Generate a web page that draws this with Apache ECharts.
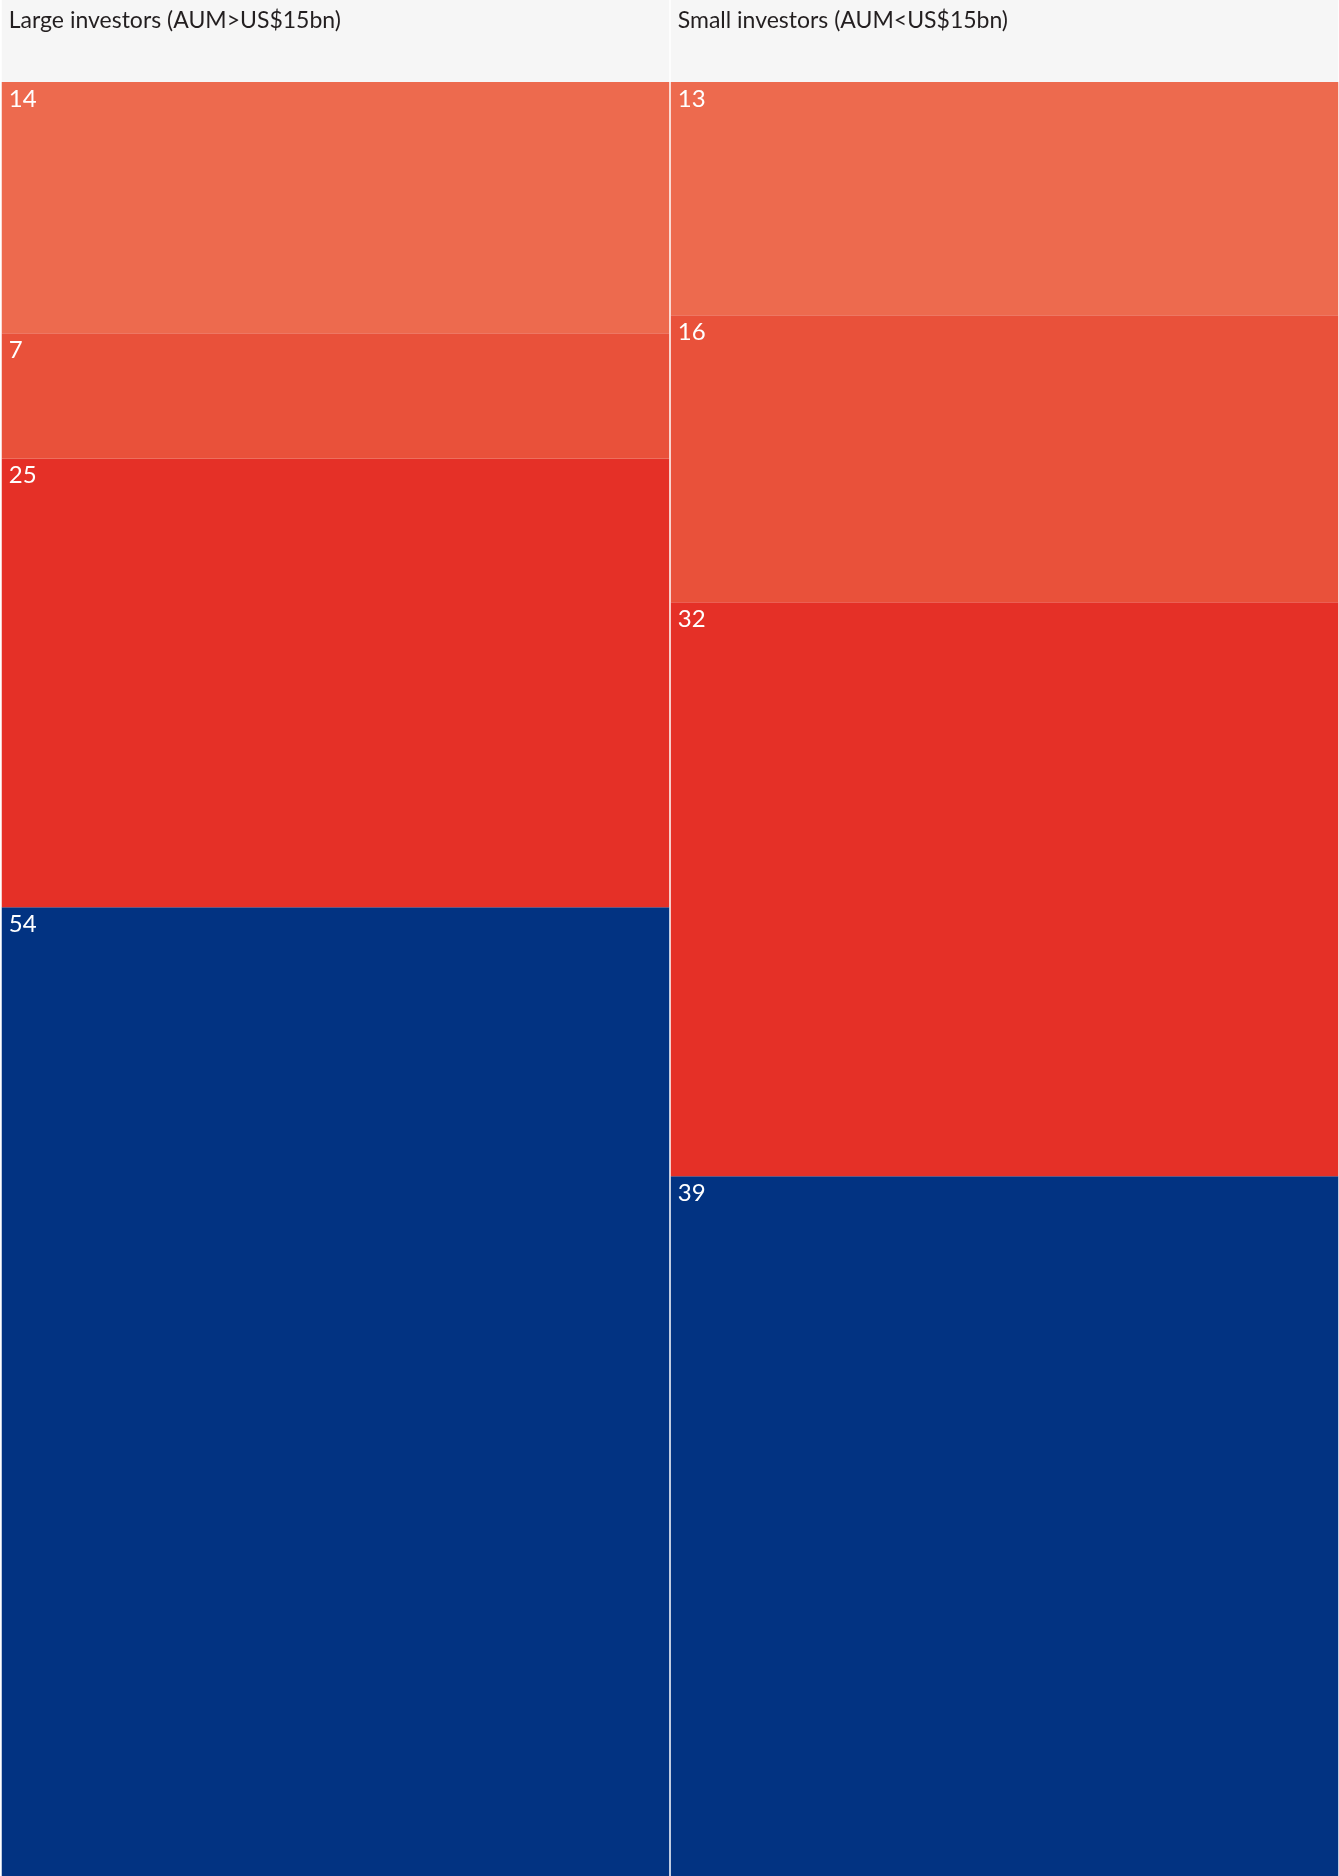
<!DOCTYPE html>
<html>
<head>
<meta charset="utf-8">
<script src="https://cdn.jsdelivr.net/npm/echarts@6/dist/echarts.min.js"></script>
<style>
html,body{margin:0;padding:0;background:#ffffff;}
#chart{width:1339px;height:1876px;}
</style>
</head>
<body>
<div id="chart"></div>
<script>
// Data (percent shares, stacked from bottom to top)
const categories = ['Large investors (AUM>US$15bn)', 'Small investors (AUM<US$15bn)'];
const bottomSegment = [54, 39];   // navy
const thirdSegment = [25, 32];    // red
const secondSegment = [7, 16];    // orange
const topSegment = [14, 13];      // light orange
const headerBand = [1, 1];

const colors = ['#023382', '#E53027', '#E9513A', '#ED6A4E'];
const stackData = [bottomSegment, thirdSegment, secondSegment, topSegment];

const FONT = 'Lato';
const BAR_W = 667.5;

const chart = echarts.init(document.getElementById('chart'), null, {renderer: 'canvas'});

const stackSeries = stackData.map((d, i) => ({
  type: 'bar',
  xAxisIndex: 0,
  yAxisIndex: 0,
  stack: 'total',
  barWidth: BAR_W,
  data: d,
  itemStyle: {color: colors[i]},
  emphasis: {disabled: true},
  label: {
    show: true,
    position: [7, 4],
    color: '#ffffff',
    fontFamily: FONT,
    fontSize: 24,
    lineHeight: 26,
    formatter: p => String(p.value)
  }
}));

chart.setOption({
  animation: false,
  backgroundColor: '#ffffff',
  grid: [
    {left: 1, right: -1.5, top: 82, bottom: 0, containLabel: false},
    {left: 1, right: -1.5, top: 0, height: 82, containLabel: false}
  ],
  xAxis: [
    {type: 'category', gridIndex: 0, data: categories, show: false},
    {type: 'category', gridIndex: 1, data: categories, show: false}
  ],
  yAxis: [
    {type: 'value', gridIndex: 0, min: 0, max: 100, show: false},
    {type: 'value', gridIndex: 1, min: 0, max: 1, show: false}
  ],
  series: stackSeries.concat([{
    type: 'bar',
    xAxisIndex: 1,
    yAxisIndex: 1,
    barWidth: BAR_W,
    data: headerBand,
    itemStyle: {color: '#F6F6F6'},
    emphasis: {disabled: true},
    label: {
      show: true,
      position: [7, 8],
      color: '#231f20',
      fontFamily: FONT,
      fontSize: 23,
      lineHeight: 26,
      formatter: p => p.name
    }
  }])
});
</script>
</body>
</html>
